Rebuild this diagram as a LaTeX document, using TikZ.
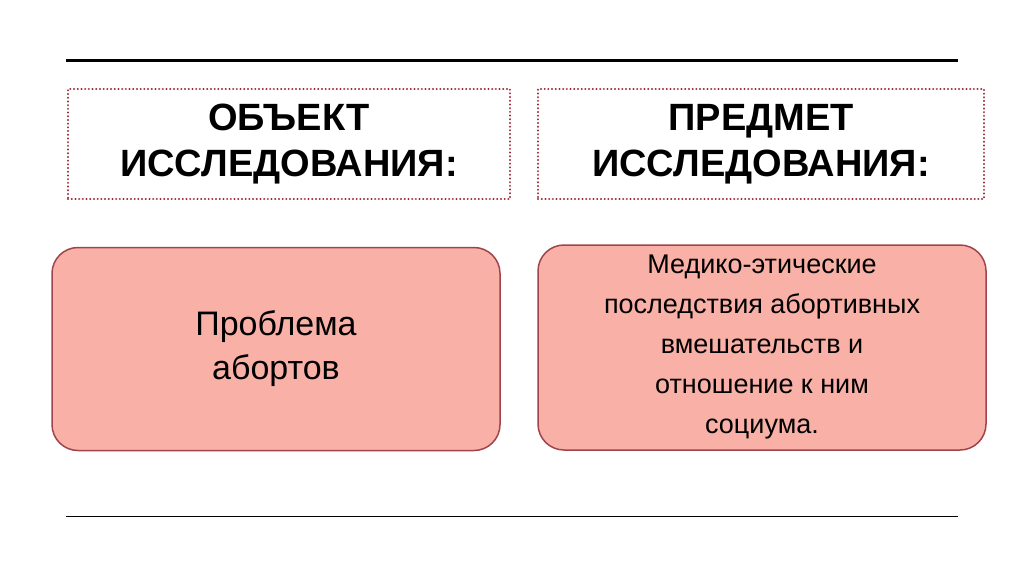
\documentclass[tikz,border=0pt]{standalone}
\usepackage{fontspec}
\setmainfont{Liberation Sans}
\definecolor{dotred}{HTML}{9B2A35}
\definecolor{boxfill}{HTML}{F9B0A6}
\definecolor{boxline}{HTML}{A0444C}
\begin{document}
\begin{tikzpicture}[x=1pt,y=-1pt,
  titlebox/.style={draw=dotred,line width=2.2pt,dash pattern=on 0.1pt off 3.6pt,line cap=round,minimum width=442pt,minimum height=110pt,align=center,font=\fontsize{38}{46}\selectfont\bfseries},
  pinkbox/.style={draw=boxline,fill=boxfill,line width=1.5pt,rounded corners=26pt,minimum width=448pt,minimum height=203pt,align=center},
  rule/.style={line width=#1}]
\useasboundingbox (0,0) rectangle (1024,574);
\coordinate (l1a) at (66,60); \coordinate (l1b) at (958,60);
\coordinate (l2a) at (66,516); \coordinate (l2b) at (958,516);
\draw[line width=3pt] (l1a) -- (l1b);
\draw[line width=1pt] (l2a) -- (l2b);
\node[titlebox] (t1) at (289,144) {ОБЪЕКТ\\ИССЛЕДОВАНИЯ:};
\node[titlebox,minimum width=446pt] (t2) at (761,144) {ПРЕДМЕТ\\ИССЛЕДОВАНИЯ:};
\node[pinkbox,font=\fontsize{34}{44}\selectfont] (b1) at (276,349) {Проблема\\абортов};
\node[pinkbox,minimum height=205pt,font=\fontsize{27}{40}\selectfont] (b2) at (762,347.5) {Медико-этические\\последствия абортивных\\вмешательств и\\отношение к ним\\социума.};
\end{tikzpicture}
\end{document}
